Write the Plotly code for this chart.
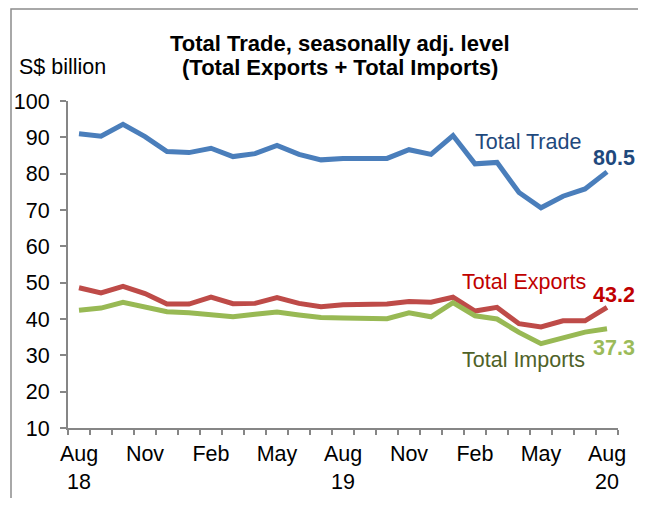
import plotly.graph_objects as go

# ---- data ----
months = ["Aug 18", "Sep 18", "Oct 18", "Nov 18", "Dec 18", "Jan 19", "Feb 19", "Mar 19",
          "Apr 19", "May 19", "Jun 19", "Jul 19", "Aug 19", "Sep 19", "Oct 19", "Nov 19",
          "Dec 19", "Jan 20", "Feb 20", "Mar 20", "Apr 20", "May 20", "Jun 20", "Jul 20", "Aug 20"]
total_trade = [91.0, 90.3, 93.6, 90.2, 86.1, 85.8, 87.0, 84.7, 85.5, 87.8, 85.3, 83.8, 84.2,
               84.1, 84.2, 86.6, 85.3, 90.5, 82.7, 83.1, 74.8, 70.6, 73.8, 75.8, 80.5]
total_exports = [48.6, 47.2, 49.0, 47.0, 44.1, 44.1, 46.0, 44.2, 44.3, 45.9, 44.3, 43.4, 43.9,
                 44.0, 44.1, 44.8, 44.6, 46.0, 42.2, 43.2, 38.7, 37.8, 39.5, 39.5, 43.2]
total_imports = [42.4, 43.0, 44.6, 43.3, 42.0, 41.7, 41.2, 40.6, 41.3, 41.9, 41.1, 40.4, 40.3,
                 40.1, 40.1, 41.7, 40.6, 44.5, 40.9, 40.0, 36.3, 33.2, 34.8, 36.4, 37.3]
tick_idx = [0, 3, 6, 9, 12, 15, 18, 21, 24]
tick_text = ["Aug<br>18", "Nov", "Feb", "May", "Aug<br>19", "Nov", "Feb", "May", "Aug<br>20"]

FONT = "Liberation Sans, Arial, sans-serif"
FS = 21.5
AXIS = "#868686"
C_TRADE, C_EXP, C_IMP = "#4A7EBB", "#BE4B48", "#98B954"

x = list(range(len(months)))

fig = go.Figure()
for y, c, n in [(total_trade, C_TRADE, "Total Trade"),
                (total_exports, C_EXP, "Total Exports"),
                (total_imports, C_IMP, "Total Imports")]:
    fig.add_trace(go.Scatter(x=x, y=y, mode="lines", name=n, customdata=months,
                             line=dict(color=c, width=5),
                             hovertemplate="%{customdata}: %{y}<extra></extra>"))


def py(page_y):
    # page pixel (plot area spans page y 101..428) -> paper coordinate
    return (428 - page_y) / 327


def px(page_x):
    # page pixel (plot area spans page x 68..618) -> paper coordinate
    return (page_x - 68) / 550


last = len(months) - 1
ann = []
# series names
ann.append(dict(x=17.9, y=88.7, text="Total Trade", showarrow=False, xanchor="left",
                yanchor="middle", font=dict(size=FS, color="#1F497D", family=FONT)))
ann.append(dict(x=17.3, y=50.2, text="Total Exports", showarrow=False, xanchor="left",
                yanchor="middle", font=dict(size=FS, color="#C00000", family=FONT)))
ann.append(dict(x=17.3, y=28.7, text="Total Imports", showarrow=False, xanchor="left",
                yanchor="middle", font=dict(size=FS, color="#4F6228", family=FONT)))
# last-value labels
ann.append(dict(x=last, y=total_trade[-1], text="<b>%.1f</b>" % total_trade[-1], showarrow=False,
                xanchor="center", yanchor="middle", xshift=7, yshift=14,
                font=dict(size=FS, color="#1F497D", family=FONT)))
ann.append(dict(x=last, y=total_exports[-1], text="<b>%.1f</b>" % total_exports[-1], showarrow=False,
                xanchor="center", yanchor="middle", xshift=7, yshift=12,
                font=dict(size=FS, color="#C00000", family=FONT)))
ann.append(dict(x=last, y=total_imports[-1], text="<b>%.1f</b>" % total_imports[-1], showarrow=False,
                xanchor="center", yanchor="middle", xshift=7, yshift=-19,
                font=dict(size=FS, color="#9BBB59", family=FONT)))
# title (two lines, tight spacing) and unit
ann.append(dict(xref="paper", yref="paper", x=px(340), y=py(43),
                text="<b>Total Trade, seasonally adj. level</b>",
                showarrow=False, xanchor="center", yanchor="middle",
                font=dict(size=22, color="black", family=FONT)))
ann.append(dict(xref="paper", yref="paper", x=px(340), y=py(68),
                text="<b>(Total Exports + Total Imports)</b>",
                showarrow=False, xanchor="center", yanchor="middle",
                font=dict(size=22, color="black", family=FONT)))
ann.append(dict(xref="paper", yref="paper", x=px(17), y=py(67),
                text="S$ billion", showarrow=False, xanchor="left", yanchor="middle",
                font=dict(size=FS, color="black", family=FONT)))

# the page body has an 8px margin, so the figure is offset by (8, 8) in the window
fig.update_layout(
    width=638, height=490,
    margin=dict(l=60, r=28, t=93, b=70, autoexpand=False),
    paper_bgcolor="white", plot_bgcolor="white",
    showlegend=False,
    font=dict(family=FONT, size=FS, color="black"),
    annotations=ann,
    shapes=[dict(type="rect", xref="paper", yref="paper",
                 x0=px(11), x1=px(641), y0=py(530), y1=py(9),
                 line=dict(color="#8C8C8C", width=1.5), layer="below")],
    xaxis=dict(range=[-0.5, 24.5], tickmode="array", tickvals=tick_idx, ticktext=tick_text,
               ticks="", showline=True, linecolor=AXIS, linewidth=2, showgrid=False,
               zeroline=False, tickfont=dict(size=FS, color="black"), ticklabelstandoff=5,
               automargin=False,
               minor=dict(tickmode="linear", tick0=-0.5, dtick=1, ticks="outside",
                          ticklen=5, tickcolor=AXIS, tickwidth=1.5, showgrid=False)),
    yaxis=dict(range=[10, 100], tickmode="linear", tick0=10, dtick=10, ticks="outside",
               ticklen=6, tickcolor=AXIS, tickwidth=1.5, showline=True, linecolor=AXIS,
               linewidth=2, showgrid=False, zeroline=False, ticklabelstandoff=6,
               automargin=False, tickfont=dict(size=FS, color="black")),
)

fig.write_html("out.html")
